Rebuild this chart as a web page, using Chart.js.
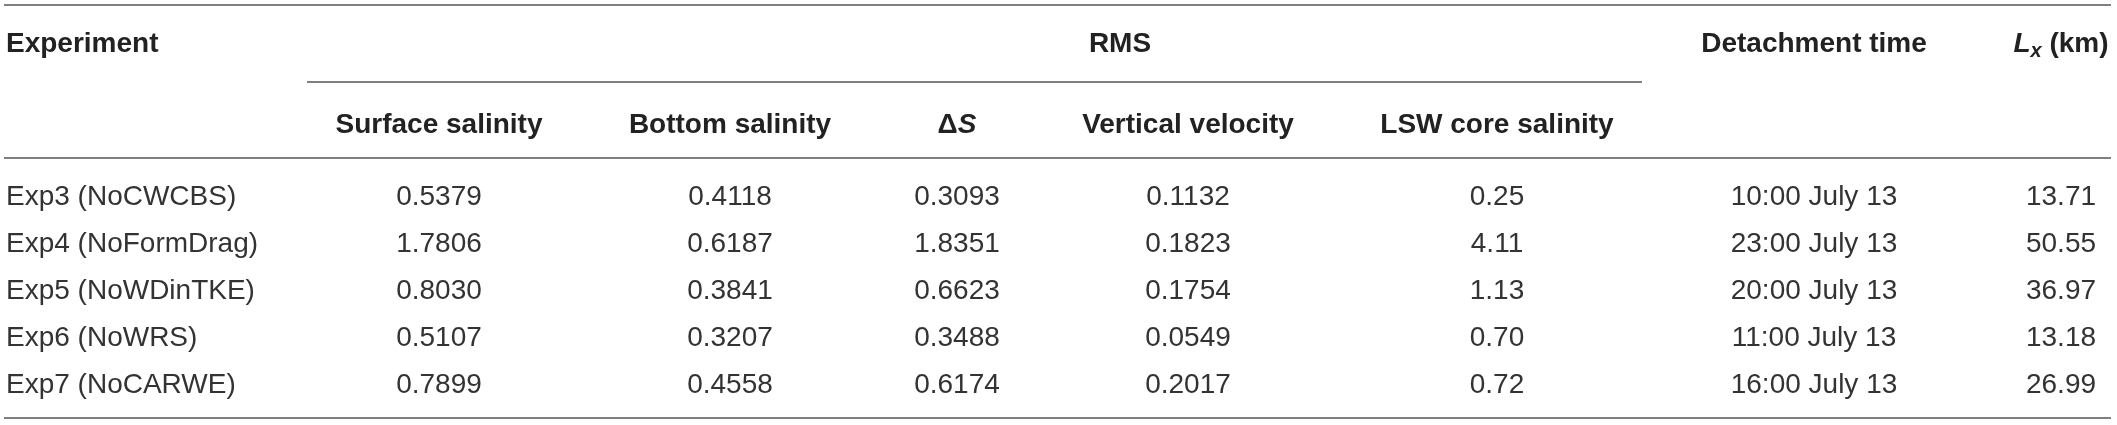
<!DOCTYPE html>
<html>
<head>
<meta charset="utf-8">
<script src="https://cdn.jsdelivr.net/npm/chart.js@4.4.1/dist/chart.umd.min.js"></script>
<style>
  html, body { margin: 0; padding: 0; background: #fff; }
  #wrap { width: 2117px; height: 425px; }
</style>
</head>
<body>
<div id="wrap"><canvas id="tabela" width="2117" height="425"></canvas></div>
<script>
// ========== DATA ==========
const experiments = ["Exp3 (NoCWCBS)", "Exp4 (NoFormDrag)", "Exp5 (NoWDinTKE)", "Exp6 (NoWRS)", "Exp7 (NoCARWE)"];
const surfaceSalinity = [0.5379, 1.7806, 0.8030, 0.5107, 0.7899];
const bottomSalinity = [0.4118, 0.6187, 0.3841, 0.3207, 0.4558];
const deltaS = [0.3093, 1.8351, 0.6623, 0.3488, 0.6174];
const verticalVelocity = [0.1132, 0.1823, 0.1754, 0.0549, 0.2017];
const lswCoreSalinity = [0.25, 4.11, 1.13, 0.70, 0.72];
const detachmentTime = ["10:00 July 13", "23:00 July 13", "20:00 July 13", "11:00 July 13", "16:00 July 13"];
const lengthX = [13.71, 50.55, 36.97, 13.18, 26.99];

const groupHeader = "RMS";
const columnHeaders = ["Experiment", "Surface salinity", "Bottom salinity", "ΔS", "Vertical velocity", "LSW core salinity", "Detachment time", "Lx (km)"];

// ========== LAYOUT ==========
// x in canvas units (linear scale 0..2117), y in row units (row i sits at y = i)
const colX = [6, 439, 730, 957, 1188, 1497, 1814, 2061];
const colAlign = ["left", "center", "center", "center", "center", "center", "center", "center"];
const headerRow = [-3.255, -1.532, -1.532, -1.532, -1.532, -1.532, -3.255, -3.255];
const groupX = 1120;
const Y_MIN = -4.149, Y_MAX = 4.894;
const RULE_TOP = -4.043, RULE_GROUP = -2.404, RULE_HEAD = -0.787, RULE_BOTTOM = 4.745;
const TABLE_LEFT = 4, TABLE_RIGHT = 2111, GROUP_LEFT = 307, GROUP_RIGHT = 1642;

const FAMILY = "'Liberation Sans', Arial, Helvetica, sans-serif";
const REG = "28px " + FAMILY;
const BOLD = "bold 28px " + FAMILY;
const BOLD_IT = "italic bold 28px " + FAMILY;
const SUB = "italic bold 20px " + FAMILY;
const CAP = 10; // half cap height, text center -> baseline

function el(id) {
  return document.getElementById(id);
}

function fmt(arr, d) {
  return arr.map(v => v.toFixed(d));
}

// header pieces (rich text for ΔS and Lx)
function headerParts(i) {
  const t = columnHeaders[i];
  if (t === "ΔS") return [["Δ", BOLD, 0], ["S", BOLD_IT, 0]];
  if (t === "Lx (km)") return [["L", BOLD_IT, 0], ["x", SUB, 5], [" (km)", BOLD, 0]];
  return [[t, BOLD, 0]];
}

function drawParts(ctx, parts, px, by, align) {
  let total = 0;
  parts.forEach(p => { ctx.font = p[1]; total += ctx.measureText(p[0]).width; });
  let x = align === "left" ? px : px - total / 2;
  ctx.textAlign = "left";
  parts.forEach(p => {
    ctx.font = p[1];
    ctx.fillText(p[0], x, by + p[2]);
    x += ctx.measureText(p[0]).width;
  });
}

// ========== COLUMNS ==========
const columns = [
  experiments,
  fmt(surfaceSalinity, 4),
  fmt(bottomSalinity, 4),
  fmt(deltaS, 4),
  fmt(verticalVelocity, 4),
  fmt(lswCoreSalinity, 2),
  detachmentTime,
  fmt(lengthX, 2)
];

const datasets = columns.map((cells, c) => ({
  label: columnHeaders[c],
  data: cells.map((_, r) => ({ x: colX[c], y: r })),
  cellText: cells,
  align: colAlign[c],
  pointRadius: 0,
  pointHoverRadius: 0,
  showLine: false
}));

// ========== PLUGIN ==========
const tablePlugin = {
  id: "tablePlugin",
  afterDatasetsDraw(chart) {
    const ctx = chart.ctx;
    const xs = chart.scales.x, ys = chart.scales.y;
    ctx.save();

    // rules
    ctx.strokeStyle = "#808080";
    ctx.lineWidth = 2;
    function rule(v, a, b) {
      const py = Math.round(ys.getPixelForValue(v));
      ctx.beginPath();
      ctx.moveTo(xs.getPixelForValue(a), py);
      ctx.lineTo(xs.getPixelForValue(b), py);
      ctx.stroke();
    }
    rule(RULE_TOP, TABLE_LEFT, TABLE_RIGHT);
    rule(RULE_GROUP, GROUP_LEFT, GROUP_RIGHT);
    rule(RULE_HEAD, TABLE_LEFT, TABLE_RIGHT);
    rule(RULE_BOTTOM, TABLE_LEFT, TABLE_RIGHT);

    // headers
    ctx.fillStyle = "#222";
    ctx.textBaseline = "alphabetic";
    ctx.font = BOLD;
    ctx.textAlign = "center";
    ctx.fillText(groupHeader, xs.getPixelForValue(groupX), ys.getPixelForValue(headerRow[0]) + CAP);
    columnHeaders.forEach((_, i) => {
      drawParts(ctx, headerParts(i), xs.getPixelForValue(colX[i]), ys.getPixelForValue(headerRow[i]) + CAP, colAlign[i]);
    });

    // cells
    ctx.fillStyle = "#333";
    ctx.font = REG;
    chart.data.datasets.forEach((ds, i) => {
      const meta = chart.getDatasetMeta(i);
      ctx.textAlign = ds.align;
      meta.data.forEach((pt, j) => {
        ctx.fillText(ds.cellText[j], pt.x, pt.y + CAP);
      });
    });

    ctx.restore();
  }
};

// ========== RENDERING ==========
new Chart(el("tabela"), {
  type: "scatter",
  data: { datasets: datasets },
  options: {
    responsive: false,
    animation: false,
    events: [],
    layout: { padding: 0 },
    plugins: { legend: { display: false }, tooltip: { enabled: false } },
    scales: {
      x: { type: "linear", min: 0, max: 2117, display: false },
      y: { type: "linear", min: Y_MIN, max: Y_MAX, reverse: true, display: false }
    }
  },
  plugins: [tablePlugin]
});
</script>
</body>
</html>
